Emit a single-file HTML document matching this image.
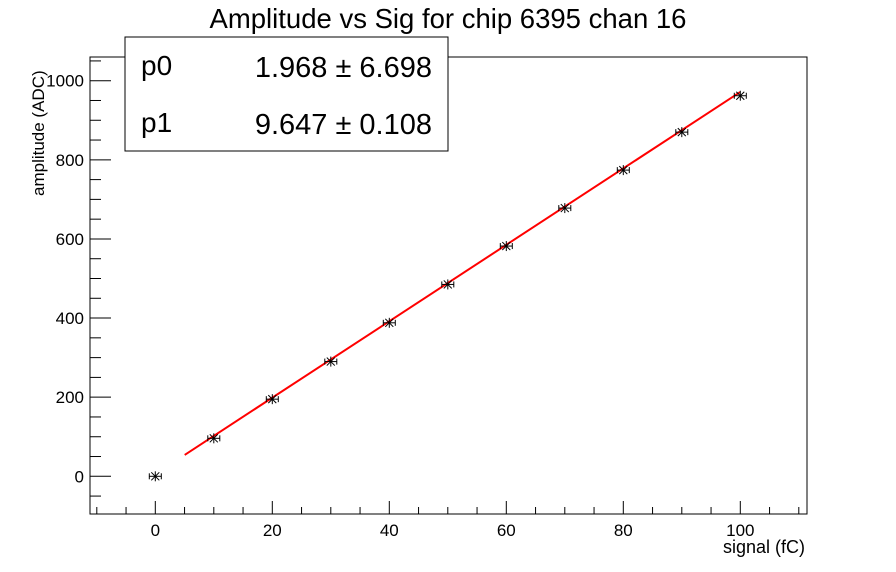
<!DOCTYPE html>
<html><head><style>
body{margin:0;background:#fff;}
svg{display:block;font-family:"Liberation Sans",sans-serif;}
</style></head><body>
<svg width="896" height="572" xmlns="http://www.w3.org/2000/svg">
<rect width="896" height="572" fill="#fff"/>
<text x="448" y="28" font-size="27.5" text-anchor="middle">Amplitude vs Sig for chip 6395 chan 16</text>
<rect x="90" y="57" width="717" height="457" fill="none" stroke="#000" stroke-width="1"/>
<g id="ticks" stroke="#000" stroke-width="1"></g>
<g id="labels" font-size="17"></g>
<text x="805" y="553" font-size="18" text-anchor="end">signal (fC)</text>
<text transform="translate(44,196) rotate(-90)" font-size="17" text-anchor="start">amplitude (ADC)</text>
<polyline points="184.7,454.9 740.1,92.1" stroke="#f00" stroke-width="2" fill="none"/>
<g id="pts" stroke="#000" stroke-width="1" fill="none"></g>
<rect x="125" y="37" width="323" height="114" fill="#fff" stroke="#000"/>
<text x="141" y="75" font-size="28">p0</text>
<text x="432" y="77" font-size="29" text-anchor="end">1.968 ± 6.698</text>
<text x="141" y="132" font-size="28">p1</text>
<text x="432" y="134" font-size="29" text-anchor="end">9.647 ± 0.108</text>
</svg>
<script>
var ns="http://www.w3.org/2000/svg";
function X(v){return 155.3+v*5.85;}
function Y(v){return 476.3-v*0.3956;}
function L(g,x1,y1,x2,y2){var l=document.createElementNS(ns,"line");l.setAttribute("x1",x1);l.setAttribute("y1",y1);l.setAttribute("x2",x2);l.setAttribute("y2",y2);document.getElementById(g).appendChild(l);}
function T(x,y,s,a){var t=document.createElementNS(ns,"text");t.setAttribute("x",x);t.setAttribute("y",y);t.setAttribute("text-anchor",a);t.textContent=s;document.getElementById("labels").appendChild(t);}
for(var v=-10;v<=110;v+=5){var x=X(v);if(x<90||x>807)continue;var maj=v%20==0;L("ticks",x,514,x,maj?501:507);if(maj)T(x,536,v,"middle");}
for(var v=-50;v<=1050;v+=50){var y=Y(v);if(y<57||y>514)continue;var maj=v%200==0;L("ticks",90,y,maj?111:101,y);if(maj)T(84,y+6,v,"end");}
var d=[[0,0],[10,96],[20,195],[30,290],[40,388],[50,485],[60,582],[70,678],[80,774],[90,870],[100,962]];
d.forEach(function(p){var x=X(p[0]),y=Y(p[1]);L("pts",x-6,y,x+6,y);L("pts",x-6,y-3,x-6,y+3);L("pts",x+6,y-3,x+6,y+3);L("pts",x,y-5,x,y+5);L("pts",x-4,y-4,x+4,y+4);L("pts",x-4,y+4,x+4,y-4);});
</script>
</body></html>
